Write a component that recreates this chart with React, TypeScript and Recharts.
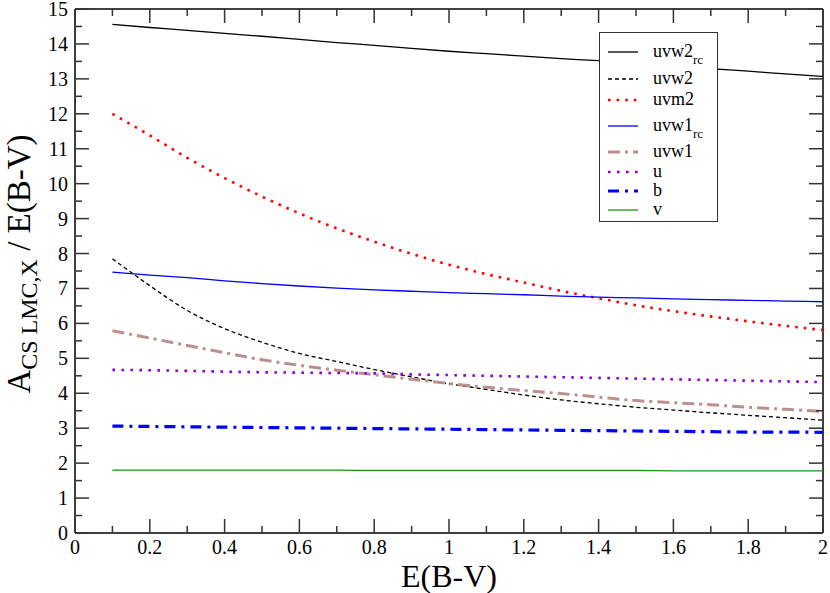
import { LineChart, Line, XAxis, YAxis, ReferenceLine, Legend, Label } from 'recharts'

// E(B-V) sample points
const ebv = [0.1, 0.2, 0.3, 0.4, 0.5, 0.6, 0.7, 0.8, 0.9, 1.0, 1.1, 1.2, 1.3, 1.4, 1.5, 1.6, 1.7, 1.8, 1.9, 2.0]

// A / E(B-V)
const uvw2rc = [14.56, 14.47, 14.39, 14.3, 14.22, 14.13, 14.04, 13.96, 13.87, 13.79, 13.72, 13.65, 13.58, 13.52, 13.44, 13.37, 13.29, 13.22, 13.14, 13.07]
const uvw2 = [7.85, 7.08, 6.37, 5.85, 5.46, 5.14, 4.91, 4.68, 4.47, 4.27, 4.11, 3.95, 3.81, 3.7, 3.6, 3.52, 3.44, 3.37, 3.3, 3.23]
const uvm2 = [12.0, 11.38, 10.74, 10.16, 9.63, 9.15, 8.72, 8.34, 7.99, 7.68, 7.41, 7.17, 6.93, 6.72, 6.52, 6.35, 6.2, 6.06, 5.93, 5.81]
const uvw1rc = [7.47, 7.38, 7.31, 7.22, 7.14, 7.07, 7.01, 6.96, 6.92, 6.88, 6.85, 6.82, 6.78, 6.75, 6.73, 6.7, 6.68, 6.66, 6.64, 6.62]
const uvw1 = [5.79, 5.58, 5.37, 5.16, 4.96, 4.8, 4.66, 4.53, 4.4, 4.28, 4.17, 4.08, 3.99, 3.89, 3.79, 3.73, 3.67, 3.6, 3.54, 3.48]
const uBand = [4.67, 4.66, 4.64, 4.62, 4.6, 4.59, 4.58, 4.57, 4.54, 4.52, 4.5, 4.48, 4.46, 4.44, 4.42, 4.4, 4.38, 4.36, 4.34, 4.32]
const bBand = [3.06, 3.05, 3.04, 3.03, 3.02, 3.01, 3.0, 2.99, 2.98, 2.97, 2.96, 2.95, 2.94, 2.93, 2.92, 2.91, 2.9, 2.89, 2.89, 2.88]
const vBand = [1.8, 1.8, 1.8, 1.8, 1.8, 1.8, 1.8, 1.79, 1.79, 1.79, 1.79, 1.79, 1.79, 1.79, 1.79, 1.78, 1.78, 1.78, 1.78, 1.78]

const xTicks = [0, 0.1, 0.2, 0.3, 0.4, 0.5, 0.6, 0.7, 0.8, 0.9, 1, 1.1, 1.2, 1.3, 1.4, 1.5, 1.6, 1.7, 1.8, 1.9, 2]
const yTicks = [0, 0.5, 1, 1.5, 2, 2.5, 3, 3.5, 4, 4.5, 5, 5.5, 6, 6.5, 7, 7.5, 8, 8.5, 9, 9.5, 10, 10.5, 11, 11.5, 12, 12.5, 13, 13.5, 14, 14.5, 15]

const series = [
  { key: 'uvw2rc', name: 'uvw2', sub: 'rc', values: uvw2rc, color: '#000000', width: 1.3, dash: undefined },
  { key: 'uvw2', name: 'uvw2', sub: '', values: uvw2, color: '#000000', width: 1.3, dash: '4 3' },
  { key: 'uvm2', name: 'uvm2', sub: '', values: uvm2, color: '#ff0000', width: 2.6, dash: '2.6 6' },
  { key: 'uvw1rc', name: 'uvw1', sub: 'rc', values: uvw1rc, color: '#0000ff', width: 1.3, dash: undefined },
  { key: 'uvw1', name: 'uvw1', sub: '', values: uvw1, color: '#bc8f8f', width: 3, dash: '12 5 3 5' },
  { key: 'u', name: 'u', sub: '', values: uBand, color: '#9400d3', width: 2.6, dash: '2.6 6.4' },
  { key: 'b', name: 'b', sub: '', values: bBand, color: '#0000ff', width: 3.2, dash: '11 6 3 6' },
  { key: 'v', name: 'v', sub: '', values: vBand, color: '#119911', width: 1.3, dash: undefined },
]

const data = ebv.map((x, i) => {
  const row: Record<string, number> = { x }
  series.forEach((s) => { row[s.key] = s.values[i] })
  return row
})

const PLOT = { left: 75, top: 9, right: 823, bottom: 533 }
const FONT = '"Liberation Serif", "DejaVu Serif", serif'
const TICK = '#333333'

const fmt = (v: number) => String(Number(v.toFixed(1)))

function XTick(props: any) {
  const { x, payload } = props
  const major = Math.round(payload.value * 10) % 2 === 0
  const len = major ? 14 : 7
  return (
    <g>
      <line x1={x} x2={x} y1={PLOT.bottom} y2={PLOT.bottom - len} stroke={TICK} strokeWidth={1.5} />
      <line x1={x} x2={x} y1={PLOT.top} y2={PLOT.top + len} stroke={TICK} strokeWidth={1.5} />
      {major && (
        <text x={x} y={PLOT.bottom + 21} textAnchor="middle" style={{ fontFamily: FONT }} fontSize={20} fill="#000">
          {fmt(payload.value)}
        </text>
      )}
    </g>
  )
}

function YTick(props: any) {
  const { y, payload } = props
  const major = Number.isInteger(payload.value)
  const len = major ? 14 : 7
  return (
    <g>
      <line x1={PLOT.left} x2={PLOT.left + len} y1={y} y2={y} stroke={TICK} strokeWidth={1.5} />
      <line x1={PLOT.right} x2={PLOT.right - len} y1={y} y2={y} stroke={TICK} strokeWidth={1.5} />
      {major && (
        <text x={PLOT.left - 7} y={y + 7} textAnchor="end" style={{ fontFamily: FONT }} fontSize={20} fill="#000">
          {payload.value}
        </text>
      )}
    </g>
  )
}

const rowY = [19, 46, 67, 93, 119, 139, 158, 177]

function LegendBox() {
  return (
    <div style={{ width: 119, height: 190, border: '1.5px solid #333', boxSizing: 'border-box', background: '#fff' }}>
      <svg width={116} height={187} style={{ display: 'block' }}>
        {series.map((s, i) => (
          <g key={s.key}>
            <line x1={8} x2={38} y1={rowY[i]} y2={rowY[i]} stroke={s.color} strokeWidth={s.width} strokeDasharray={s.dash} />
            <text x={53} y={rowY[i] + 4.5} style={{ fontFamily: FONT }} fontSize={18} fill="#000">
              {s.name}
              {s.sub && <tspan fontSize={13} dy={7.5}>{s.sub}</tspan>}
            </text>
          </g>
        ))}
      </svg>
    </div>
  )
}

export default function App() {
  return (
    <div style={{ position: 'absolute', left: 0, top: 0, width: 830, height: 593, background: '#fff' }}>
      <LineChart width={830} height={593} data={data} margin={{ top: 9, right: 7, bottom: 0, left: 0 }}>
        <XAxis
          type="number"
          dataKey="x"
          domain={[0, 2]}
          ticks={xTicks}
          interval={0}
          height={60}
          tickSize={0}
          tickMargin={0}
          tickLine={false}
          tick={<XTick />}
          axisLine={{ stroke: '#000', strokeWidth: 1.5 }}
        >
          <Label
            content={() => (
              <text x={449} y={587} textAnchor="middle" style={{ fontFamily: FONT }} fontSize={32} fill="#000">
                E(B-V)
              </text>
            )}
          />
        </XAxis>
        <YAxis
          type="number"
          domain={[0, 15]}
          ticks={yTicks}
          interval={0}
          width={75}
          tickSize={0}
          tickMargin={0}
          tickLine={false}
          tick={<YTick />}
          axisLine={{ stroke: '#000', strokeWidth: 1.5 }}
        >
          <Label
            content={() => (
              <text x={30} y={264} transform="rotate(-90 30 264)" textAnchor="middle" style={{ fontFamily: FONT }} fontSize={33} fill="#000">
                A<tspan fontSize={24} dy={7}>CS LMC,X</tspan>
                <tspan dy={-7}> / E(B-V)</tspan>
              </text>
            )}
          />
        </YAxis>
        <ReferenceLine y={15} stroke="#000" strokeWidth={1.5} />
        <ReferenceLine x={2} stroke="#000" strokeWidth={1.5} />
        {series.map((s) => (
          <Line
            key={s.key}
            type="monotone"
            dataKey={s.key}
            stroke={s.color}
            strokeWidth={s.width}
            strokeDasharray={s.dash}
            dot={false}
            activeDot={false}
            isAnimationActive={false}
          />
        ))}
        <Legend
          layout="vertical"
          align="center"
          verticalAlign="middle"
          content={() => <LegendBox />}
          wrapperStyle={{ left: 599, top: 32, width: 119, height: 190 }}
        />
      </LineChart>
    </div>
  )
}
